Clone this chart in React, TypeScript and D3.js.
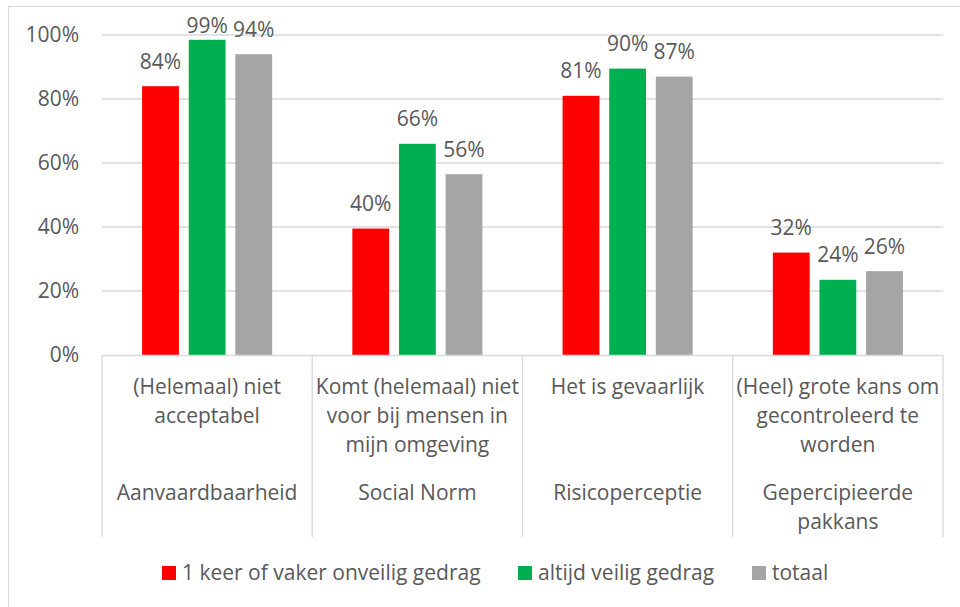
import React from "react";
import * as d3 from "d3";

const categories = [
  { sub: ["(Helemaal) niet", "acceptabel"], main: ["Aanvaardbaarheid"] },
  { sub: ["Komt (helemaal) niet", "voor bij mensen in", "mijn omgeving"], main: ["Social Norm"] },
  { sub: ["Het is gevaarlijk"], main: ["Risicoperceptie"] },
  { sub: ["(Heel) grote kans om", "gecontroleerd te", "worden"], main: ["Gepercipieerde", "pakkans"] },
];
const seriesNames = ["1 keer of vaker onveilig gedrag", "altijd veilig gedrag", "totaal"];
const seriesColors = ["#FF0000", "#00B050", "#A5A5A5"];
const onveilig = [0.84, 0.395, 0.81, 0.32];
const veilig = [0.985, 0.66, 0.895, 0.235];
const totaal = [0.94, 0.565, 0.87, 0.262];
const labelsOnveilig = ["84%", "40%", "81%", "32%"];
const labelsVeilig = ["99%", "66%", "90%", "24%"];
const labelsTotaal = ["94%", "56%", "87%", "26%"];
const yTicks = [0, 0.2, 0.4, 0.6, 0.8, 1.0];

const W = 960;
const H = 607;
const FONT = "'Open Sans', sans-serif";
const TEXT = "#595959";
const GRID = "#D9D9D9";

export default function App() {
  const left = 102;
  const right = 943;
  const top = 35;
  const bottom = 355;
  const x = d3.scaleBand<number>().domain(d3.range(categories.length)).range([left, right]);
  const xs = d3.scaleBand<number>().domain([0, 1, 2]).range([0, x.bandwidth()]).paddingInner(0.21).paddingOuter(0.86);
  const y = d3.scaleLinear().domain([0, 1]).range([bottom, top]);
  const series = [onveilig, veilig, totaal];
  const labels = [labelsOnveilig, labelsVeilig, labelsTotaal];
  const fs = 21;
  const lineH = 29;
  const legendItems = [
    { x: 162, name: seriesNames[0], color: seriesColors[0] },
    { x: 518, name: seriesNames[1], color: seriesColors[1] },
    { x: 752, name: seriesNames[2], color: seriesColors[2] },
  ];
  const boundaries = d3.range(categories.length + 1).map((i) => left + i * x.step());
  return (
    <svg width={W} height={H} style={{ position: "absolute", left: 0, top: 0, background: "#fff" }} fontFamily={FONT}>
      <rect x={0} y={0} width={W} height={H} fill="#fff" />
      <line x1={8.5} x2={8.5} y1={6} y2={H} stroke={GRID} strokeWidth={1} />
      <line x1={8} x2={W} y1={6.5} y2={6.5} stroke={GRID} strokeWidth={1} />
      {yTicks.map((t) => (
        <g key={t}>
          {t > 0 && <line x1={left} x2={right} y1={y(t)} y2={y(t)} stroke={GRID} strokeWidth={1.3} />}
          <text x={79} y={y(t)} dy="0.35em" textAnchor="end" fontSize={fs} fill={TEXT}>
            {d3.format(".0%")(t)}
          </text>
        </g>
      ))}
      {series.map((vals, s) =>
        vals.map((v, i) => {
          const bx = (x(i) as number) + (xs(s) as number);
          const by = y(v);
          const ly = Math.max(by - 17.5, 33);
          return (
            <g key={`${s}-${i}`}>
              <rect x={bx} y={by} width={xs.bandwidth()} height={bottom - by} fill={seriesColors[s]} />
              <text x={bx + xs.bandwidth() / 2} y={ly} textAnchor="middle" fontSize={fs} fill={TEXT}>
                {labels[s][i]}
              </text>
            </g>
          );
        })
      )}
      <line x1={left} x2={right} y1={bottom + 0.5} y2={bottom + 0.5} stroke={GRID} strokeWidth={1.3} />
      {boundaries.map((bx, i) => (
        <line key={i} x1={bx} x2={bx} y1={bottom} y2={537} stroke={GRID} strokeWidth={1.3} />
      ))}
      {categories.map((c, i) => {
        const cx = (x(i) as number) + x.bandwidth() / 2;
        return (
          <g key={i}>
            {c.sub.map((ln, j) => (
              <text key={j} x={cx} y={387 + j * lineH} dy="0.35em" textAnchor="middle" fontSize={fs} fill={TEXT}>
                {ln}
              </text>
            ))}
            {c.main.map((ln, j) => (
              <text key={j} x={cx} y={493 + j * lineH} dy="0.35em" textAnchor="middle" fontSize={fs} fill={TEXT}>
                {ln}
              </text>
            ))}
          </g>
        );
      })}
      {legendItems.map((it, i) => (
        <g key={i}>
          <rect x={it.x} y={566} width={14} height={14} fill={it.color} />
          <text x={it.x + 20} y={573} dy="0.35em" fontSize={fs} fill={TEXT}>
            {it.name}
          </text>
        </g>
      ))}
    </svg>
  );
}
